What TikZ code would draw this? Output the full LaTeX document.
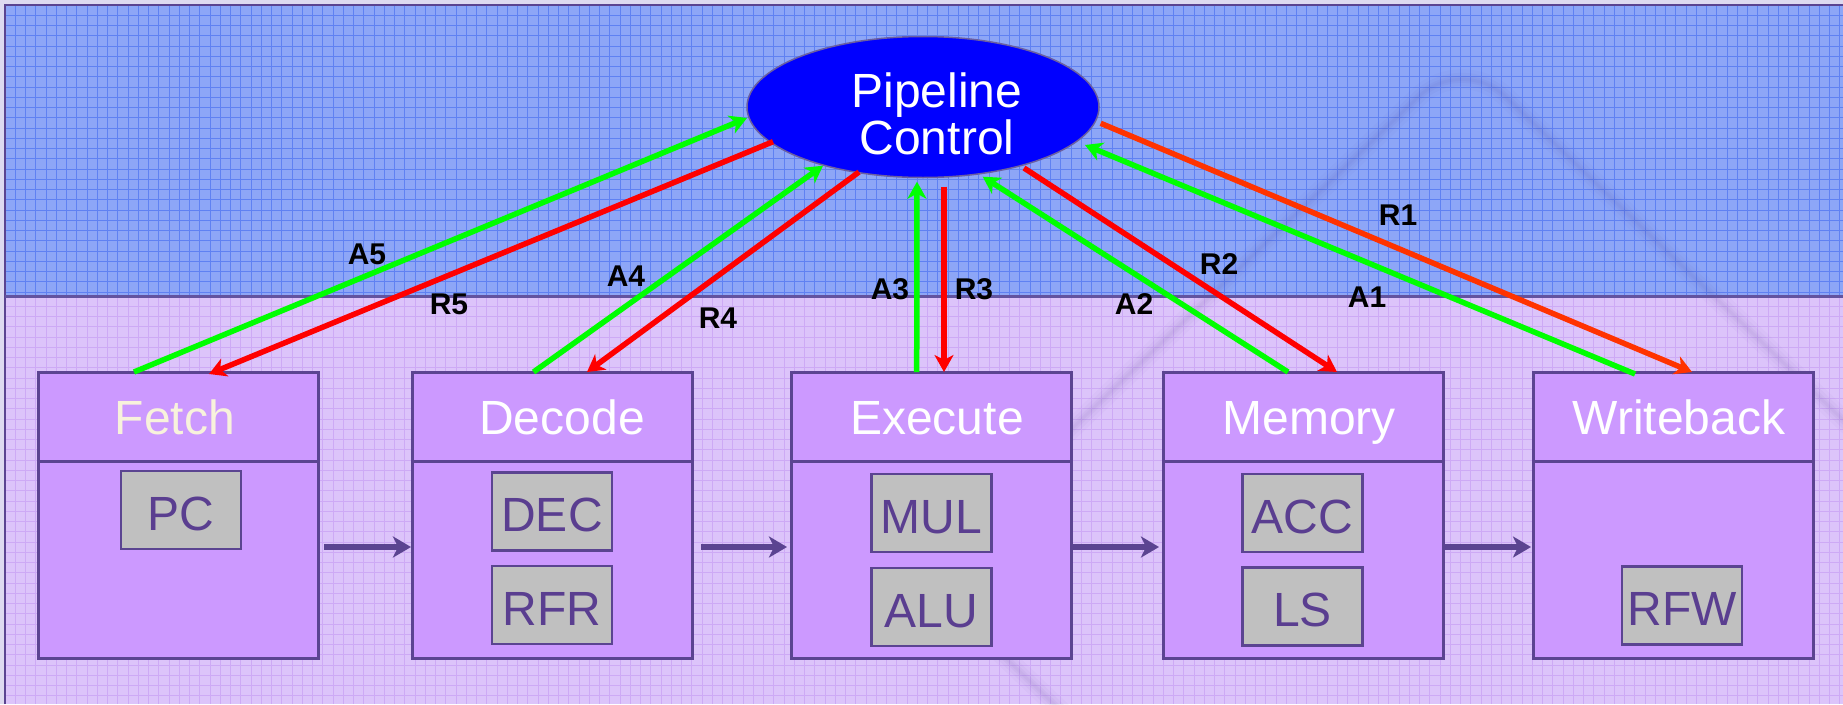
\documentclass[tikz,border=0pt]{standalone}
\usepackage{fontspec}
\setmainfont{Liberation Sans}
\usetikzlibrary{arrows.meta,shapes.geometric,calc}

\definecolor{marginc}{HTML}{DEDAF0}
\definecolor{skyfill}{HTML}{8DA6F7}
\definecolor{skygrid}{HTML}{5F81F2}
\definecolor{lavfill}{HTML}{DCC4FA}
\definecolor{lavgrid}{HTML}{CDAAF5}
\definecolor{stagefill}{HTML}{CC99FF}
\definecolor{edgec}{HTML}{5B4491}
\definecolor{unitfill}{HTML}{C0C0C0}
\definecolor{unittext}{HTML}{5A3E90}
\definecolor{ackgreen}{HTML}{00FF00}
\definecolor{reqred}{HTML}{FF0000}
\definecolor{reqorange}{HTML}{FF3300}
\definecolor{cream}{HTML}{F8F2DC}
\definecolor{ctrlblue}{HTML}{0000FF}
\definecolor{ctrledge}{HTML}{6B5FA0}
\definecolor{shadowc}{HTML}{3A2A80}

\begin{document}
\begin{tikzpicture}[x=1pt,y=-1pt,
  stagebox/.style={draw=edgec, line width=3pt, fill=stagefill, minimum width=280pt,
    minimum height=286pt, inner sep=0pt, outer sep=0pt, anchor=north west},
  unitbox/.style={draw=edgec, line width=2.5pt, fill=unitfill, minimum width=120pt,
    minimum height=78pt, inner sep=0pt, outer sep=0pt, text=unittext,
    font=\fontsize{48}{48}\selectfont, text height=40pt, text depth=0pt},
  stagetitle/.style={anchor=base, text=white, font=\fontsize{48}{48}\selectfont, inner sep=0pt},
  tag/.style={font=\fontsize{30}{30}\selectfont\bfseries, inner sep=0pt},
  ack/.style={draw=ackgreen, line width=5.5pt, -{Stealth[length=17pt,width=19pt,inset=5pt]}},
  req/.style={draw=reqred, line width=5.5pt, -{Stealth[length=17pt,width=19pt,inset=5pt]}},
  flow/.style={draw=edgec, line width=6pt, -{Stealth[length=18pt,width=21pt,inset=5pt]}},
]
\useasboundingbox (0,0) rectangle (1843,704);

% page margin and the two background bands
\fill[marginc] (0,0) rectangle (1843,704);
\fill[skyfill] (5,5) rectangle (1843,296);
\fill[lavfill] (5,296) rectangle (1843,704);

% graph-paper texture
\foreach \i in {0,...,179} {
  \draw[skygrid, line width=1pt] ({5+\i*10.25},5) -- ({5+\i*10.25},296);
  \draw[lavgrid, line width=1pt] ({5+\i*10.25},296) -- ({5+\i*10.25},704);
}
\foreach \j in {0,...,28} {
  \draw[skygrid, line width=1pt] (5,{5+\j*10.25}) -- (1843,{5+\j*10.25});
}
\foreach \j in {0,...,40} {
  \draw[lavgrid, line width=1pt] (5,{296+\j*10.25}) -- (1843,{296+\j*10.25});
}

% soft shadow of the large tilted square behind the stages
\begin{scope}
  \clip (5,5) rectangle (1843,704);
  \foreach \w/\o in {20/0.025,13/0.03,7/0.035,3/0.03} {
    \draw[shadowc, line width=\w pt, opacity=\o, rounded corners=60pt]
      (1462,55) -- (2005,575) -- (1462,1095) -- (919,575) -- cycle;
  }
\end{scope}

% frame and band divider
\draw[edgec, line width=2.5pt] (5,704) -- (5,5) -- (1843,5);
\draw[edgec!85!skyfill, line width=3pt] (5,296) -- (1843,296);

% pipeline stages
\node[stagebox] (fetch)     at (38,372)   {};
\node[stagebox] (decode)    at (412,372)  {};
\node[stagebox] (execute)   at (791,372)  {};
\node[stagebox] (memory)    at (1163,372) {};
\node[stagebox] (writeback) at (1533,372) {};
\foreach \s in {fetch,decode,execute,memory,writeback} {
  \draw[edgec, line width=3pt] ([yshift=-89pt]\s.north west) -- ([yshift=-89pt]\s.north east);
}

\node[stagetitle, text=cream] (fetchtitle) at (175,434)  {Fetch};
\node[stagetitle] (decodetitle)    at (562,434)  {Decode};
\node[stagetitle] (executetitle)   at (937,434)  {Execute};
\node[stagetitle] (memorytitle)    at (1309,434) {Memory};
\node[stagetitle] (writebacktitle) at (1679,434) {Writeback};

% functional units
\node[unitbox] (pc)  at (181,510)    {PC};
\node[unitbox] (dec) at (552,511.5)  {DEC};
\node[unitbox] (rfr) at (552,605)    {RFR};
\node[unitbox] (mul) at (931.5,513)  {MUL};
\node[unitbox] (alu) at (931.5,607)  {ALU};
\node[unitbox] (acc) at (1302.5,513) {ACC};
\node[unitbox] (ls)  at (1302.5,606.5) {LS};
\node[unitbox] (rfw) at (1682,605.5) {RFW};

% instruction flow between stages
\coordinate (flowline) at (0,547);
\draw[flow, shorten <=6pt, shorten >=1pt] (fetch.east |- flowline) -- (decode.west |- flowline);
\draw[flow, shorten <=9pt, shorten >=4pt] (decode.east |- flowline) -- (execute.west |- flowline);
\draw[flow, shorten >=4pt] (execute.east |- flowline) -- (memory.west |- flowline);
\draw[flow, shorten >=2pt] (memory.east |- flowline) -- (writeback.west |- flowline);

% pipeline control unit
\node[ellipse, minimum width=352pt, minimum height=141pt, fill=ctrlblue, draw=ctrledge,
      line width=1.5pt, inner sep=0pt] (ctrl) at (923,107) {};
\node[align=center, text=white, font=\fontsize{48}{47}\selectfont, inner sep=0pt]
      (ctrllabel) at (937,114) {Pipeline\\Control};

% acknowledge (green) and request (red) handshakes
\draw[ack] ([xshift=96pt]fetch.north west)      -- ([shift={(-176,11)}]ctrl.center);
\draw[req] ([shift={(-150,34.7)}]ctrl.center)   -- ([xshift=171pt,yshift=-2pt]fetch.north west);
\draw[ack] ([xshift=121.5pt]decode.north west)  -- ([shift={(-100,58.7)}]ctrl.center);
\draw[req] ([shift={(-64,65)}]ctrl.center)      -- ([xshift=175pt]decode.north west);
\draw[ack] ([xshift=125.7pt]execute.north west) -- ([shift={(-6,74.7)}]ctrl.center);
\draw[req] ([shift={(21,79.7)}]ctrl.center)     -- ([xshift=153pt]execute.north west);
\draw[ack] ([xshift=125pt]memory.north west)    -- ([shift={(59.7,69.7)}]ctrl.center);
\draw[req] ([shift={(101,61)}]ctrl.center)      -- ([xshift=174pt]memory.north west);
\draw[ack] ([xshift=102pt,yshift=-2pt]writeback.north west) -- ([shift={(162,38)}]ctrl.center);
\draw[req, draw=reqorange] ([shift={(177.7,16.3)}]ctrl.center) -- ([xshift=159pt]writeback.north west);

% handshake labels
\node[tag] (a5) at (367,254)  {A5};
\node[tag] (r5) at (449,304)  {R5};
\node[tag] (a4) at (626,276)  {A4};
\node[tag] (r4) at (718,318)  {R4};
\node[tag] (a3) at (890,289)  {A3};
\node[tag] (r3) at (974,289)  {R3};
\node[tag] (a2) at (1134,304) {A2};
\node[tag] (r2) at (1219,264) {R2};
\node[tag] (a1) at (1367,297) {A1};
\node[tag] (r1) at (1398,215) {R1};
\end{tikzpicture}
\end{document}
